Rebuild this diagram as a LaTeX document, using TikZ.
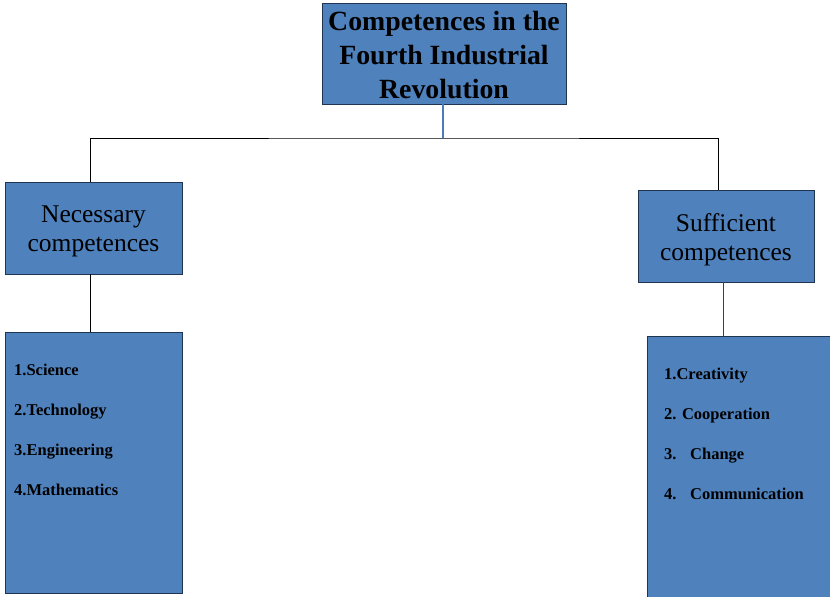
\documentclass[tikz,border=0pt]{standalone}
\usepackage{fontspec}
\setmainfont{Liberation Serif}
\begin{document}
\begin{tikzpicture}[x=1pt,y=-1pt,
  box/.style={draw=boxline,fill=boxfill,line width=0.9pt,inner sep=0pt},
  txt/.style={inner sep=0pt,align=center},
  item/.style={anchor=base west,inner sep=0pt,font=\fontsize{16.5}{18}\selectfont\bfseries},
  conn/.style={draw=black,line width=0.8pt}]
\definecolor{boxfill}{HTML}{4F81BD}
\definecolor{boxline}{HTML}{1F3450}
\definecolor{bluecon}{HTML}{4A7EBB}
\useasboundingbox (0,0) rectangle (830,597);
\node[box,minimum width=244pt,minimum height=101pt] (top) at (444,53.5) {};
\node[txt,font=\fontsize{27.8}{34}\selectfont\bfseries] (toptext) at ([yshift=-2pt]top.center) {Competences in the\\Fourth Industrial\\Revolution};
\node[box,minimum width=177pt,minimum height=92pt] (nec) at (93.5,228) {};
\node[txt,font=\fontsize{25.5}{29}\selectfont] (nectext) at ([yshift=-3.5pt]nec.center) {Necessary\\competences};
\node[box,minimum width=176pt,minimum height=92pt] (suf) at (726,236) {};
\node[txt,font=\fontsize{25.5}{29}\selectfont] (suftext) at ([yshift=-3.5pt]suf.center) {Sufficient\\competences};
\node[box,minimum width=177pt,minimum height=261pt] (nl) at (93.5,462.5) {};
\node[box,minimum width=188pt,minimum height=262pt] (rl) at (741,467) {};
\coordinate (j) at (443,138);
\draw[bluecon,line width=2.2pt] (top.south -| j) -- (j);
\draw[conn] ([xshift=-3.5pt]nec.north) |- (j) -| ([xshift=-8pt]suf.north);
\draw[conn] ([xshift=-3.5pt]nec.south) -- ([xshift=-3.5pt]nl.north);
\draw[conn,draw=black!75] ([xshift=-3pt]suf.south) -- ([xshift=-3pt]suf.south |- rl.north);
\node[item] (n1) at (14,375) {1.Science};
\node[item] (n2) at (14,415) {2.Technology};
\node[item] (n3) at (14,455) {3.Engineering};
\node[item] (n4) at (14,495) {4.Mathematics};
\node[item] (r1) at (664,379) {1.Creativity};
\node[item] (r2) at (664,419) {2. Cooperation};
\node[item] (r3) at (664,459) {\makebox[26pt][l]{3.}Change};
\node[item] (r4) at (664,499) {\makebox[26pt][l]{4.}Communication};
\end{tikzpicture}
\end{document}
